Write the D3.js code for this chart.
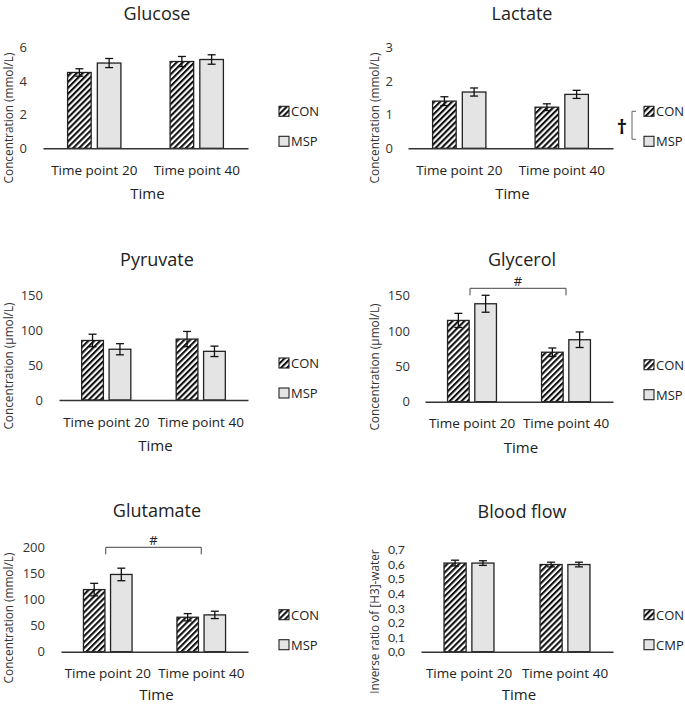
<!DOCTYPE html>
<html>
<head>
<meta charset="utf-8">
<script src="https://cdn.jsdelivr.net/npm/d3@7"></script>
<style>
  html, body { margin: 0; padding: 0; background: #fff; }
  svg { display: block; font-family: "Open Sans", "DejaVu Sans", sans-serif; }
</style>
</head>
<body>
<svg id="chart" width="685" height="705"></svg>
<script>
// ---------- DATA ----------
const categories = ["Time point 20", "Time point 40"];
const xAxisTitle = "Time";

const glucoseCON = [4.50, 5.15];
const glucoseCONErr = [0.22, 0.30];
const glucoseMSP = [5.06, 5.27];
const glucoseMSPErr = [0.27, 0.28];
const glucoseTicks = [0, 2, 4, 6];

const lactateCON = [1.40, 1.22];
const lactateCONErr = [0.13, 0.10];
const lactateMSP = [1.67, 1.60];
const lactateMSPErr = [0.12, 0.12];
const lactateTicks = [0, 1, 2, 3];

const pyruvateCON = [85.6, 87.6];
const pyruvateCONErr = [9, 11];
const pyruvateMSP = [73, 70];
const pyruvateMSPErr = [8, 7.5];
const pyruvateTicks = [0, 50, 100, 150];

const glycerolCON = [115, 70];
const glycerolCONErr = [10, 6];
const glycerolMSP = [138.6, 87.7];
const glycerolMSPErr = [12, 11];
const glycerolTicks = [0, 50, 100, 150];

const glutamateCON = [119, 66];
const glutamateCONErr = [12, 7];
const glutamateMSP = [148, 70.5];
const glutamateMSPErr = [12, 7];
const glutamateTicks = [0, 50, 100, 150, 200];

const bloodCON = [0.61, 0.60];
const bloodCONErr = [0.02, 0.016];
const bloodCMP = [0.61, 0.60];
const bloodCMPErr = [0.016, 0.016];
const bloodTicks = [0, 0.1, 0.2, 0.3, 0.4, 0.5, 0.6, 0.7];

// ---------- PANELS (data + layout) ----------
const panels = [
  { title: "Glucose", ylabel: "Concentration (mmol/L)", series: ["CON", "MSP"],
    con: glucoseCON, conErr: glucoseCONErr, alt: glucoseMSP, altErr: glucoseMSPErr,
    ticks: glucoseTicks, fmt: d3.format("d"), tickSize: 13, tickFont: "'Open Sans', sans-serif",
    x0: 43, x1: 248, yBase: 148.3, yTop: 47.2, titleX: 157, titleY: 19.5, timeDy: 51,
    tickRight: 27, ylabX: 7.5, ylabY: 118, legX: 279 },
  { title: "Lactate", ylabel: "Concentration (mmol/L)", series: ["CON", "MSP"],
    con: lactateCON, conErr: lactateCONErr, alt: lactateMSP, altErr: lactateMSPErr,
    ticks: lactateTicks, fmt: d3.format("d"), tickSize: 13, tickFont: "'Open Sans', sans-serif",
    x0: 408, x1: 613, yBase: 148.3, yTop: 47.2, titleX: 522, titleY: 19.5, timeDy: 51,
    tickRight: 393, ylabX: 373.5, ylabY: 118, legX: 644, dagger: true },
  { title: "Pyruvate", ylabel: "Concentration (\u00b5mol/L)", series: ["CON", "MSP"],
    con: pyruvateCON, conErr: pyruvateCONErr, alt: pyruvateMSP, altErr: pyruvateMSPErr,
    ticks: pyruvateTicks, fmt: d3.format("d"), tickSize: 13, tickFont: "'Open Sans', sans-serif",
    x0: 59, x1: 248, yBase: 400, yTop: 295.7, titleX: 157, titleY: 266, timeDy: 51,
    tickRight: 43, ylabX: 7.5, ylabY: 366, legX: 279 },
  { title: "Glycerol", ylabel: "Concentration (\u00b5mol/L)", series: ["CON", "MSP"],
    con: glycerolCON, conErr: glycerolCONErr, alt: glycerolMSP, altErr: glycerolMSPErr,
    ticks: glycerolTicks, fmt: d3.format("d"), tickSize: 13, tickFont: "'Open Sans', sans-serif",
    x0: 425, x1: 613, yBase: 401.7, yTop: 295.7, titleX: 522, titleY: 266, timeDy: 51,
    tickRight: 410, ylabX: 373.5, ylabY: 367, legX: 644, bracket: { y: 288.3, mark: "#" } },
  { title: "Glutamate", ylabel: "Concentration (mmol/L)", series: ["CON", "MSP"],
    con: glutamateCON, conErr: glutamateCONErr, alt: glutamateMSP, altErr: glutamateMSPErr,
    ticks: glutamateTicks, fmt: d3.format("d"), tickSize: 13, tickFont: "'Open Sans', sans-serif",
    x0: 61, x1: 248, yBase: 651.7, yTop: 547.3, titleX: 157, titleY: 517, timeDy: 48,
    tickRight: 45, ylabX: 7.5, ylabY: 618, legX: 279, bracket: { y: 547.3, mark: "#" } },
  { title: "Blood flow", ylabel: "Inverse ratio of [H3]-water", series: ["CON", "CMP"],
    con: bloodCON, conErr: bloodCONErr, alt: bloodCMP, altErr: bloodCMPErr,
    ticks: bloodTicks, fmt: d => d3.format(".1f")(d).replace(".", ","), tickSize: 12.3, tickFont: "Lato, sans-serif",
    x0: 421, x1: 613, yBase: 651.7, yTop: 550, titleX: 522, titleY: 518, timeDy: 48,
    tickRight: 405, ylabX: 373.5, ylabY: 621.5, legX: 644 }
];

// ---------- DRAW ----------
const svg = d3.select("#chart");
const defs = svg.append("defs");
const pat = defs.append("pattern")
  .attr("id", "hatch").attr("patternUnits", "userSpaceOnUse")
  .attr("width", 4.2).attr("height", 4.2)
  .attr("patternTransform", "rotate(45)");
pat.append("rect").attr("width", 4.2).attr("height", 4.2).attr("fill", "#fff");
pat.append("rect").attr("x", 0).attr("width", 2.1).attr("height", 4.2).attr("fill", "#111");

const textCol = "#222";
const FILL_ALT = "#e4e4e4";

panels.forEach(p => {
  const g = svg.append("g");
  const maxT = p.ticks[p.ticks.length - 1];
  const y = d3.scaleLinear().domain([0, maxT]).range([p.yBase, p.yTop]);
  const x = d3.scaleBand().domain(categories).range([p.x0, p.x1]).padding(0);
  const bw = x.bandwidth();
  const barW = bw * 0.23;
  const gap = bw * 0.06;
  const sub = d3.scaleOrdinal().domain([0, 1]).range([-gap / 2 - barW, gap / 2]);

  // title
  g.append("text").attr("x", p.titleX).attr("y", p.titleY)
    .attr("text-anchor", "middle").attr("font-size", 18).attr("fill", textCol)
    .text(p.title);

  // y tick labels (no axis line in reference)
  const yAxis = d3.axisLeft(y).tickValues(p.ticks).tickFormat(p.fmt).tickSize(0).tickPadding(0);
  const ya = g.append("g").attr("transform", `translate(${p.tickRight},0)`).call(yAxis);
  ya.select(".domain").remove();
  ya.selectAll("text").attr("font-size", p.tickSize).attr("fill", "#333")
    .attr("font-family", p.tickFont);

  // y label
  g.append("text")
    .attr("transform", `translate(${p.ylabX},${p.ylabY}) rotate(-90)`)
    .attr("text-anchor", "middle").attr("dominant-baseline", "central")
    .attr("font-size", 11.8).attr("fill", "#333").text(p.ylabel);

  // bars
  const rows = [];
  categories.forEach((c, i) => {
    rows.push({ c, s: 0, v: p.con[i], e: p.conErr[i] });
    rows.push({ c, s: 1, v: p.alt[i], e: p.altErr[i] });
  });
  g.selectAll("rect.bar").data(rows).enter().append("rect")
    .attr("class", "bar")
    .attr("x", d => x(d.c) + bw / 2 + sub(d.s))
    .attr("y", d => y(d.v))
    .attr("width", barW)
    .attr("height", d => y(0) - y(d.v))
    .attr("fill", d => d.s === 0 ? "url(#hatch)" : FILL_ALT)
    .attr("stroke", "#222").attr("stroke-width", 1.3);

  // error bars
  const cap = 4;
  rows.forEach(d => {
    const cx = x(d.c) + bw / 2 + sub(d.s) + barW / 2;
    const e = g.append("g").attr("stroke", "#111").attr("stroke-width", 1.3);
    e.append("line").attr("x1", cx).attr("x2", cx).attr("y1", y(d.v + d.e)).attr("y2", y(d.v - d.e));
    e.append("line").attr("x1", cx - cap).attr("x2", cx + cap).attr("y1", y(d.v + d.e)).attr("y2", y(d.v + d.e));
    e.append("line").attr("x1", cx - cap).attr("x2", cx + cap).attr("y1", y(d.v - d.e)).attr("y2", y(d.v - d.e));
  });

  // x axis
  const xAxis = d3.axisBottom(x).tickSize(0).tickPadding(0);
  const xa = g.append("g").attr("transform", `translate(0,${p.yBase})`).call(xAxis);
  xa.select(".domain").attr("stroke", "#333").attr("stroke-width", 1.4);
  xa.selectAll("text").attr("font-size", 13.5).attr("fill", textCol)
    .attr("font-family", "'Open Sans', sans-serif")
    .attr("dy", 0).attr("y", 26.5);

  g.append("text").attr("x", (p.x0 + p.x1) / 2 + 2).attr("y", p.yBase + p.timeDy)
    .attr("text-anchor", "middle").attr("font-size", 15).attr("fill", textCol)
    .text(xAxisTitle);

  // legend
  const legY = [p.yBase - 37, p.yBase - 7];
  p.series.forEach((s, i) => {
    g.append("rect").attr("x", p.legX).attr("y", legY[i] - 5).attr("width", 10).attr("height", 10)
      .attr("fill", i === 0 ? "url(#hatch)" : FILL_ALT)
      .attr("stroke", "#222").attr("stroke-width", 1.1);
    g.append("text").attr("x", p.legX + 12).attr("y", legY[i])
      .attr("dominant-baseline", "central").attr("font-size", 13).attr("fill", textCol)
      .text(s);
  });

  // dagger with bracket (Lactate)
  if (p.dagger) {
    const bx = p.legX - 12;
    g.append("path")
      .attr("d", `M${bx + 4},${legY[0]} H${bx} V${legY[1] - 2} H${bx + 4}`)
      .attr("fill", "none").attr("stroke", "#666").attr("stroke-width", 1);
    g.append("text").attr("x", bx - 10).attr("y", (legY[0] + legY[1]) / 2)
      .attr("text-anchor", "middle").attr("dominant-baseline", "central")
      .attr("font-size", 20).attr("font-weight", "bold").attr("fill", "#111")
      .text("\u2020");
  }

  // significance bracket
  if (p.bracket) {
    const c1 = x(categories[0]) + bw / 2 - 2;
    const c2 = x(categories[1]) + bw / 2;
    g.append("path")
      .attr("d", `M${c1},${p.bracket.y + 7} V${p.bracket.y} H${c2} V${p.bracket.y + 7}`)
      .attr("fill", "none").attr("stroke", "#444").attr("stroke-width", 1);
    g.append("text").attr("x", (c1 + c2) / 2).attr("y", p.bracket.y - 2)
      .attr("text-anchor", "middle").attr("font-size", 13).attr("fill", textCol)
      .text(p.bracket.mark);
  }
});
</script>
</body>
</html>
